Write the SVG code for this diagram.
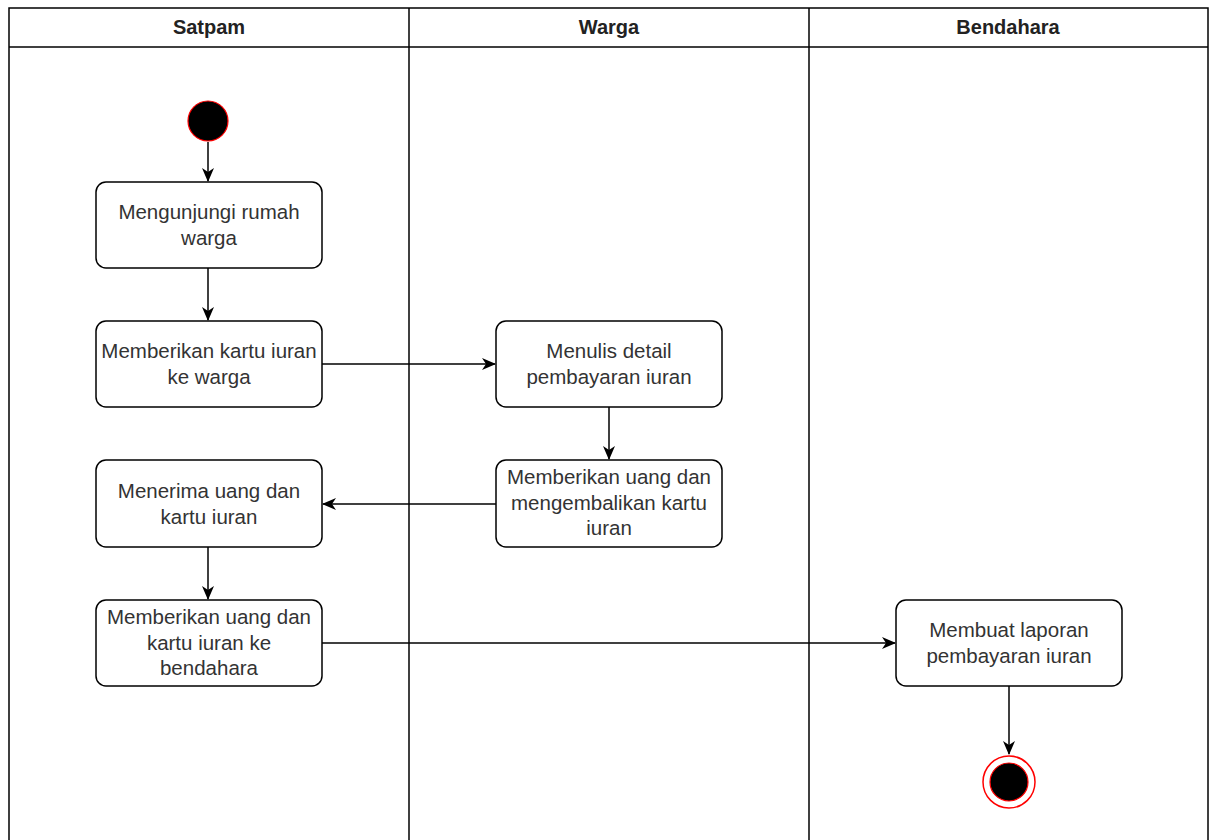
<svg xmlns="http://www.w3.org/2000/svg" width="1211" height="840" viewBox="0 0 1211 840">
<style>
.lane{fill:#fff;stroke:#000;stroke-width:1.5}
.hd{font-family:"Liberation Sans",Arial,sans-serif;font-size:20px;font-weight:bold;fill:#222;text-anchor:middle}
.box{fill:#fff;stroke:#000;stroke-width:1.5}
.t{font-family:"Liberation Sans",Arial,sans-serif;font-size:20.5px;fill:#333;text-anchor:middle}
.c{fill:none;stroke:#000;stroke-width:1.5}
</style>
<defs>
<marker id="ah" viewBox="0 0 14 12" refX="13" refY="6" markerWidth="14" markerHeight="12" markerUnits="userSpaceOnUse" orient="auto">
<path d="M0,0 L14,6 L0,12 L4,6 Z" fill="#000"/>
</marker>
</defs>
<rect width="1211" height="840" fill="#fff"/>
<g id="lanes">
<rect class="lane" x="9" y="8" width="1199" height="840"/>
<line class="lane" x1="9" y1="47" x2="1208" y2="47"/>
<line class="lane" x1="409" y1="8" x2="409" y2="840"/>
<line class="lane" x1="809" y1="8" x2="809" y2="840"/>
<text class="hd" x="209" y="34">Satpam</text>
<text class="hd" x="609" y="34">Warga</text>
<text class="hd" x="1008" y="34">Bendahara</text>
</g>
<g id="connectors">
<line class="c" x1="208" y1="142" x2="208" y2="181" marker-end="url(#ah)"/>
<line class="c" x1="208" y1="268" x2="208" y2="320" marker-end="url(#ah)"/>
<line class="c" x1="322" y1="364" x2="495" y2="364" marker-end="url(#ah)"/>
<line class="c" x1="609" y1="407" x2="609" y2="459" marker-end="url(#ah)"/>
<line class="c" x1="496" y1="504" x2="323" y2="504" marker-end="url(#ah)"/>
<line class="c" x1="208" y1="547" x2="208" y2="599" marker-end="url(#ah)"/>
<line class="c" x1="322" y1="643" x2="895" y2="643" marker-end="url(#ah)"/>
<line class="c" x1="1009" y1="686" x2="1009" y2="754" marker-end="url(#ah)"/>
</g>
<g id="start">
<circle cx="208" cy="121" r="20" fill="#000" stroke="#ff0000" stroke-width="1.2"/>
</g>
<g id="n1">
<rect class="box" x="96" y="182" width="226" height="86" rx="10"/>
<text class="t" x="209" y="219">Mengunjungi rumah</text>
<text class="t" x="209" y="245">warga</text>
</g>
<g id="n2">
<rect class="box" x="96" y="321" width="226" height="86" rx="10"/>
<text class="t" x="209" y="358">Memberikan kartu iuran</text>
<text class="t" x="209" y="384">ke warga</text>
</g>
<g id="n3">
<rect class="box" x="496" y="321" width="226" height="86" rx="10"/>
<text class="t" x="609" y="358">Menulis detail</text>
<text class="t" x="609" y="384">pembayaran iuran</text>
</g>
<g id="n4">
<rect class="box" x="496" y="460" width="226" height="87" rx="10"/>
<text class="t" x="609" y="484">Memberikan uang dan</text>
<text class="t" x="609" y="510">mengembalikan kartu</text>
<text class="t" x="609" y="535">iuran</text>
</g>
<g id="n5">
<rect class="box" x="96" y="460" width="226" height="87" rx="10"/>
<text class="t" x="209" y="498">Menerima uang dan</text>
<text class="t" x="209" y="524">kartu iuran</text>
</g>
<g id="n6">
<rect class="box" x="96" y="600" width="226" height="86" rx="10"/>
<text class="t" x="209" y="624">Memberikan uang dan</text>
<text class="t" x="209" y="650">kartu iuran ke</text>
<text class="t" x="209" y="675">bendahara</text>
</g>
<g id="n7">
<rect class="box" x="896" y="600" width="226" height="86" rx="10"/>
<text class="t" x="1009" y="637">Membuat laporan</text>
<text class="t" x="1009" y="663">pembayaran iuran</text>
</g>
<g id="end">
<circle cx="1009" cy="782" r="26" fill="#fff" stroke="#ff0000" stroke-width="1.5"/>
<circle cx="1009" cy="782" r="19" fill="#000" stroke="#ff0000" stroke-width="1.2"/>
</g>
</svg>
